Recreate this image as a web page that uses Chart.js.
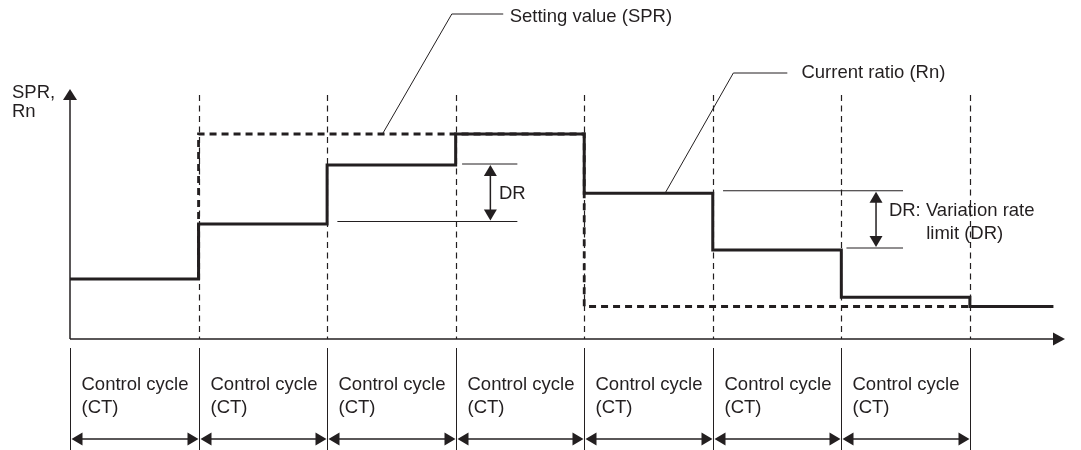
<!DOCTYPE html>
<html>
<head>
<meta charset="utf-8">
<script src="https://cdn.jsdelivr.net/npm/chart.js@4/dist/chart.umd.min.js"></script>
<style>
  html, body { margin: 0; padding: 0; background: #fff; }
  canvas { display: block; }
</style>
</head>
<body>
<canvas id="chart" width="1081" height="450"></canvas>
<script>
// control cycle boundaries (x in cycles) and step values (0-100 scale)
const cycleEdges = [0, 1, 2, 3, 4, 5, 6, 7];
const rnValues = [24, 46, 69.6, 82, 58.3, 35.6, 16.7, 13];
const rnTailEnd = 7.65;
const sprValues = [24, 82, 82, 82, 13, 13, 13];
const cycleLabel = ['Control cycle', '(CT)'];
const axisLabel = ['SPR,', 'Rn'];

const INK = '#231f20';
const FONT = '18.5px "Liberation Sans", Arial, sans-serif';

// DR markers and leader lines, in data units
const drNotes = [
  { x: 3.27, top: 70, bottom: 47, topFrom: 3.05, bottomFrom: 2.08, to: 3.48,
    text: [['DR', 3.337, 58]] },
  { x: 6.27, top: 59.3, bottom: 36.4, topFrom: 5.08, bottomFrom: 6.04, to: 6.48,
    text: [['DR: Variation rate', 6.37, 51.3], ['limit (DR)', 6.66, 42]] }
];
const callouts = [
  { text: 'Setting value (SPR)', at: [3.42, 128.8], path: [[2.435, 82.4], [2.97, 130], [3.37, 130]] },
  { text: 'Current ratio (Rn)', at: [5.69, 106.4], path: [[4.63, 58.4], [5.16, 106.4], [5.58, 106.4]] }
];

const rnPoints = rnValues.map((v, i) => ({ x: cycleEdges[i], y: v }));
rnPoints.push({ x: rnTailEnd, y: rnValues[rnValues.length - 1] });

// SPR as step corners, so the first cycle (same as Rn) can be left out
const sprPoints = [];
sprValues.forEach((v, i) => {
  sprPoints.push({ x: cycleEdges[i], y: v });
  sprPoints.push({ x: cycleEdges[i + 1], y: v });
});

function arrowHead(ctx, tx, ty, dx, dy, len, half) {
  const bx = tx - dx * len, by = ty - dy * len;
  ctx.beginPath();
  ctx.moveTo(tx, ty);
  ctx.lineTo(bx - dy * half, by + dx * half);
  ctx.lineTo(bx + dy * half, by - dx * half);
  ctx.closePath();
  ctx.fill();
}

function line(ctx, x1, y1, x2, y2) {
  ctx.beginPath();
  ctx.moveTo(x1, y1);
  ctx.lineTo(x2, y2);
  ctx.stroke();
}

const diagram = {
  id: 'diagram',
  beforeDatasetsDraw(chart) {
    const { ctx, scales: { x, y } } = chart;
    ctx.save();
    ctx.strokeStyle = INK;
    ctx.lineWidth = 1.2;
    ctx.setLineDash([6, 4.5]);
    cycleEdges.slice(1).forEach(c => {
      const px = Math.round(x.getPixelForValue(c)) + 0.5;
      line(ctx, px, y.getPixelForValue(97.6), px, y.getPixelForValue(0));
    });
    ctx.restore();
  },
  afterDatasetsDraw(chart) {
    const { ctx, chartArea: area, scales: { x, y } } = chart;
    ctx.save();
    ctx.strokeStyle = INK;
    ctx.fillStyle = INK;
    ctx.setLineDash([]);

    // axes
    const x0 = x.getPixelForValue(0), y0 = y.getPixelForValue(0);
    ctx.lineWidth = 1.5;
    line(ctx, x0, y0, x0, area.top + 8);
    arrowHead(ctx, x0, area.top, 0, -1, 11, 7);
    line(ctx, x0, y0, area.right - 8, y0);
    arrowHead(ctx, area.right, y0, 1, 0, 12, 6.5);

    // control cycle scale under the axis
    ctx.lineWidth = 1;
    ctx.font = FONT;
    ctx.textBaseline = 'middle';
    const arrowY = y0 + 100;
    cycleEdges.forEach((c, i) => {
      const px = Math.round(x.getPixelForValue(c)) + 0.5;
      line(ctx, px, y0 + 9, px, chart.height);
      if (i < cycleEdges.length - 1) {
        const nx = Math.round(x.getPixelForValue(cycleEdges[i + 1])) + 0.5;
        ctx.lineWidth = 1.5;
        line(ctx, px + 8, arrowY, nx - 8, arrowY);
        arrowHead(ctx, px + 1, arrowY, -1, 0, 11, 6.5);
        arrowHead(ctx, nx - 1, arrowY, 1, 0, 11, 6.5);
        ctx.lineWidth = 1;
        ctx.fillText(cycleLabel[0], px + 11, y0 + 46);
        ctx.fillText(cycleLabel[1], px + 11, y0 + 69);
      }
    });

    ctx.fillText(axisLabel[0], x0 - 58, area.top + 4);
    ctx.fillText(axisLabel[1], x0 - 58, area.top + 23);

    // DR markers
    drNotes.forEach(n => {
      const ax = x.getPixelForValue(n.x);
      const ty = y.getPixelForValue(n.top), by = y.getPixelForValue(n.bottom);
      ctx.lineWidth = 1;
      line(ctx, x.getPixelForValue(n.topFrom), ty, x.getPixelForValue(n.to), ty);
      line(ctx, x.getPixelForValue(n.bottomFrom), by, x.getPixelForValue(n.to), by);
      ctx.lineWidth = 1.5;
      line(ctx, ax, ty + 8, ax, by - 8);
      arrowHead(ctx, ax, ty + 1, 0, -1, 11, 6.5);
      arrowHead(ctx, ax, by - 1, 0, 1, 11, 6.5);
      n.text.forEach(([t, tx, tyv]) => {
        ctx.fillText(t, x.getPixelForValue(tx), y.getPixelForValue(tyv));
      });
    });

    // leader lines
    ctx.lineWidth = 1;
    callouts.forEach(c => {
      ctx.beginPath();
      c.path.forEach(([px, py], i) => {
        const X = x.getPixelForValue(px), Y = y.getPixelForValue(py);
        if (i === 0) ctx.moveTo(X, Y); else ctx.lineTo(X, Y);
      });
      ctx.stroke();
      ctx.fillText(c.text, x.getPixelForValue(c.at[0]), y.getPixelForValue(c.at[1]));
    });
    ctx.restore();
  }
};

new Chart(document.getElementById('chart'), {
  type: 'line',
  data: {
    datasets: [
      {
        label: 'Current ratio (Rn)',
        data: rnPoints,
        stepped: 'before',
        borderColor: INK,
        borderWidth: 3,
        pointRadius: 0,
        fill: false,
        clip: false
      },
      {
        label: 'Setting value (SPR)',
        data: sprPoints,
        borderColor: INK,
        borderWidth: 2.8,
        borderDash: [7, 5],
        pointRadius: 0,
        fill: false,
        clip: false,
        segment: {
          // first cycle runs under Rn
          borderColor: c => (c.p0DataIndex === 0 ? 'rgba(0,0,0,0)' : INK)
        }
      }
    ]
  },
  options: {
    responsive: false,
    animation: false,
    layout: { padding: { left: 70, right: 16, top: 89, bottom: 111 } },
    scales: {
      x: { type: 'linear', min: 0, max: 7.74, display: false },
      y: { type: 'linear', min: 0, max: 100, display: false }
    },
    plugins: { legend: { display: false }, tooltip: { enabled: false } }
  },
  plugins: [diagram]
});
</script>
</body>
</html>
